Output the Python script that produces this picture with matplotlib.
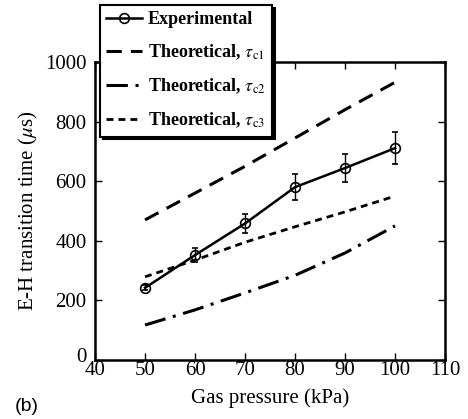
import matplotlib
matplotlib.use("Agg")
import matplotlib.pyplot as plt
import matplotlib.transforms as mtransforms
from matplotlib.lines import Line2D
import numpy as np

plt.rcParams['font.family'] = ['Liberation Serif', 'DejaVu Serif']
plt.rcParams['mathtext.fontset'] = 'stix'

pressure = [50, 60, 70, 80, 90, 100]
exp_time = [242, 352, 458, 580, 644, 711]
exp_err = [8, 23, 33, 43, 48, 53]
tau_c1 = [470, 560, 650, 745, 840, 932]
tau_c2 = [117, 168, 225, 284, 359, 450]
tau_c3 = [279, 335, 395, 447, 497, 550]

fig = plt.figure(figsize=(4.68, 4.19), dpi=100)
ax = fig.add_axes([0.203, 0.141, 0.748, 0.711])

ax.errorbar(pressure, exp_time, yerr=exp_err, color='black', lw=1.8,
            marker='o', ms=7, mfc='none', mec='black', mew=1.2,
            capsize=2.5, elinewidth=1.0)
l1, = ax.plot(pressure, tau_c1, color='black', lw=2.2, dashes=(5, 3))
l2, = ax.plot(pressure, tau_c2, color='black', lw=2.2, dashes=(7, 2.5, 1, 2.5))
l3, = ax.plot(pressure, tau_c3, color='black', lw=2.0, dashes=(2.5, 1.8))
h0 = Line2D([], [], color='black', lw=1.8, marker='o', ms=7, mfc='none', mew=1.2)

ax.set_xlim(40, 110)
ax.set_ylim(0, 1000)
ax.set_xticks(np.arange(40, 111, 10))
ax.set_yticks(np.arange(0, 1001, 200))
ax.tick_params(direction='in', top=True, right=True, length=5, width=1,
               labelsize=15)
ax.tick_params(axis='x', pad=1)
ax.tick_params(axis='y', pad=6)
for s in ax.spines.values():
    s.set_linewidth(1.8)

# lift the "0" label a little, as in the original
fig.canvas.draw()
zero = ax.get_yticklabels()[0]
zero.set_transform(zero.get_transform() +
                   mtransforms.ScaledTranslation(0, 5 / 100, fig.dpi_scale_trans))

ax.set_xlabel('Gas pressure (kPa)', fontsize=15, labelpad=6)
ax.set_ylabel(r'E-H transition time ($\mu$s)', fontsize=15, labelpad=4)

labels = ['Experimental', r'Theoretical, $\tau_{\rm c1}$',
          r'Theoretical, $\tau_{\rm c2}$', r'Theoretical, $\tau_{\rm c3}$']
leg = fig.legend([h0, l1, l2, l3], labels,
                 loc='upper left', bbox_to_anchor=(100 / 468, 1 - 5 / 419),
                 frameon=True, fancybox=False, edgecolor='black',
                 shadow={'color': 'black', 'alpha': 1},
                 prop={'size': 13, 'weight': 'bold'},
                 handlelength=2.0, handletextpad=0.3, labelspacing=0.8,
                 borderpad=0.35, borderaxespad=0)
leg.get_frame().set_linewidth(1.5)
leg.get_frame().set_alpha(1)

fig.text(15 / 468, 1 - 406 / 419, '(b)', fontsize=14, family='Liberation Sans',
         va='center', ha='left')

fig.savefig('out.png', dpi=100)
